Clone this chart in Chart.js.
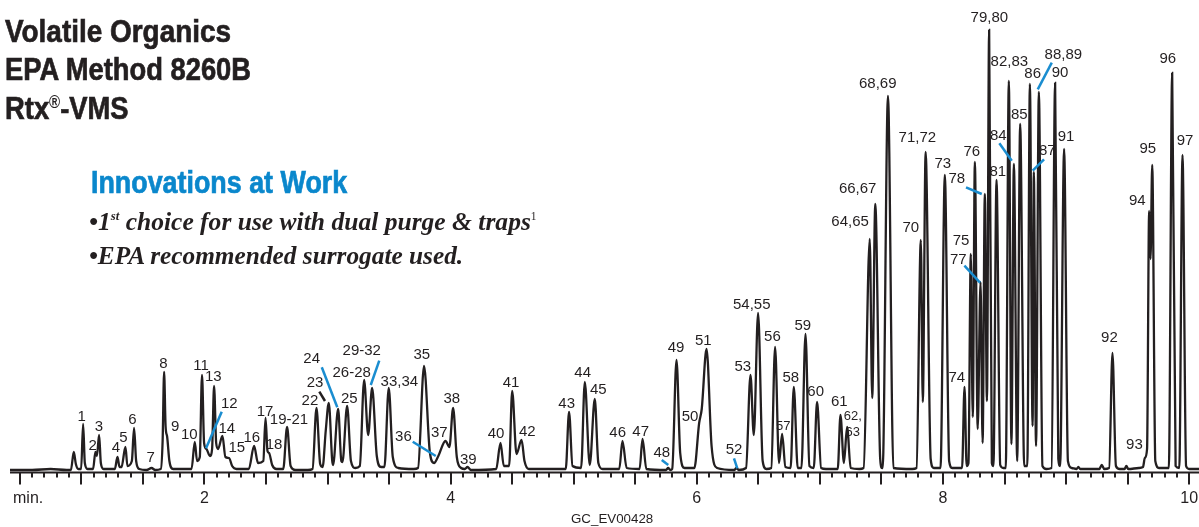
<!DOCTYPE html>
<html>
<head>
<meta charset="utf-8">
<script src="https://cdn.jsdelivr.net/npm/chart.js@4.4.1/dist/chart.umd.min.js"></script>
<style>
  html,body{margin:0;padding:0;background:#fff;}
  #wrap{position:relative;width:1199px;height:527px;overflow:hidden;background:#fff;}
  canvas{position:absolute;left:0;top:0;}
  .fit{position:absolute;white-space:nowrap;display:inline-block;line-height:1;transform-origin:0 0;}
  .ttl{font-family:"Liberation Sans",Arial,sans-serif;font-weight:bold;font-size:32px;color:#231f20;left:5px;-webkit-text-stroke:0.7px #231f20;}
  .blue{color:#0a87cc;-webkit-text-stroke:0.7px #0a87cc;}
  .it{font-family:"Liberation Serif","Times New Roman",serif;font-weight:bold;font-style:italic;font-size:26px;color:#231f20;}
  .sup{font-size:0.5em;position:relative;top:-0.75em;}
  .sup1{font-size:0.45em;position:relative;top:-0.85em;font-style:normal;font-weight:normal;}
  .reg{font-size:0.55em;position:relative;top:-0.6em;-webkit-text-stroke:0;}
  .foot{font-family:"Liberation Sans",Arial,sans-serif;font-size:13px;color:#231f20;}
</style>
</head>
<body>
<div id="wrap">
  <canvas id="c" width="1199" height="527"></canvas>
  <div class="fit ttl" data-w="226" style="top:15px">Volatile Organics</div>
  <div class="fit ttl" data-w="246" style="top:53px">EPA Method 8260B</div>
  <div class="fit ttl" data-w="124" style="top:92px">Rtx<span class="reg">®</span>-VMS</div>
  <div class="fit ttl blue" data-w="256" style="left:91px;top:166px">Innovations at Work</div>
  <div class="fit it" data-w="448" style="left:89px;top:209px">•1<span class="sup">st</span> choice for use with dual purge &amp; traps<span class="sup1">1</span></div>
  <div class="fit it" data-w="374" style="left:89px;top:243px">•EPA recommended surrogate used.</div>
  <div class="fit foot" data-w="82" style="left:571px;top:512px">GC_EV00428</div>
</div>
<script>
// ---------------- DATA ----------------
// chromatogram trace (minutes, detector response)
const retentionTime = [
  0.42,0.60,0.75,0.88,
  0.915,0.938,0.955,0.975,
  0.998,1.014,1.028,1.05,
  1.095,1.114,1.126,1.144,1.158,1.18,
  1.272,1.293,1.31,1.326,1.358,1.374,
  1.41,1.428,1.445,1.47,
  1.53,1.57,1.60,
  1.645,1.66,1.672,1.684,1.697,1.715,1.745,
  1.895,1.921,1.94,1.962,1.98,1.997,
  2.016,2.045,2.062,2.078,2.095,
  2.11,2.146,2.17,2.2,2.225,2.26,
  2.36,2.403,2.435,2.478,2.496,2.512,2.525,2.55,2.585,
  2.64,2.671,2.70,2.74,2.84,
  2.878,2.91,2.94,2.96,2.985,3.01,3.038,
  3.045,3.086,3.112,3.121,3.159,3.19,3.225,
  3.262,3.297,3.33,3.362,3.40,3.435,
  3.462,3.497,3.53,3.575,3.70,
  3.735,3.784,3.83,3.865,3.90,3.958,
  3.99,4.02,4.05,4.085,4.115,4.137,4.165,
  4.37,4.405,4.432,4.475,4.50,4.535,4.576,4.60,4.635,4.90,
  4.935,4.962,4.99,5.06,5.09,5.13,5.171,5.20,5.235,
  5.37,5.396,5.43,5.535,5.559,5.59,
  5.75,5.767,5.785,5.80,5.835,5.865,5.90,
  5.98,6.019,6.04,6.079,6.12,6.165,
  6.305,6.322,6.34,6.40,6.436,6.463,6.498,6.535,6.565,
  6.605,6.636,6.668,6.693,6.72,6.762,6.788,6.82,
  6.85,6.883,6.915,6.95,6.977,7.01,7.05,
  7.145,7.167,7.195,7.221,7.25,7.32,
  7.355,7.405,7.425,7.45,7.49,7.505,
  7.51,7.553,7.597,7.75,
  7.785,7.82,7.836,7.859,7.90,7.925,
  7.98,8.015,8.05,8.075,
  8.155,8.175,8.192,8.207,8.226,8.242,8.259,8.282,8.305,8.322,8.34,8.357,8.375,8.397,
  8.41,8.435,8.465,8.49,
  8.51,8.535,8.556,8.576,8.603,8.627,8.66,
  8.685,8.706,8.728,8.738,8.756,8.779,8.808,8.84,
  8.882,8.911,8.937,8.952,8.984,9.015,9.045,
  9.085,9.10,9.115,9.27,9.29,9.31,
  9.35,9.377,9.405,9.435,
  9.475,9.49,9.505,9.59,9.625,9.64,
  9.658,9.675,9.686,9.70,9.725,9.755,
  9.835,9.862,9.89,9.92,9.946,9.975,10.0,10.08
];
const detectorSignal = [
  1,1,2,1,
  1,19,7,2,
  2,47,8,2,
  2,19,15,36,8,2,
  2,14,4,4,24,5,
  10,43,10,2,
  1,3,1,
  2,30,99,45,34,10,2,
  2,29,10,14,96,28,
  22,15,22,85,28,
  22,35,14,13,5,2,
  2,25,8,10,53,20,18,6,2,
  2,44,5,1,1,
  2,63,7,4,40,68,10,
  6,62,10,9,65,10,3,
  5,91,36,83,15,4,
  4,83,14,3,2,
  3,105,20,8,15,30,
  24,63,14,3,2,4,1,
  2,28,5,5,80,17,31,10,2,2,
  2,59,5,3,89,6,72,8,2,
  2,30,3,2,32,2,
  1,3,1,2,111,18,3,
  3,48,62,122,25,3,
  1,3,1,3,96,36,158,10,2,
  3,124,8,37,4,3,84,3,
  3,137,5,3,69,3,2,
  2,56,8,44,3,2,
  3,232,73,267,12,3,
  3,375,3,2,
  3,231,69,319,12,3,
  3,296,10,3,
  3,84,5,8,217,54,309,42,189,28,277,70,441,8,
  5,291,6,3,
  3,390,27,307,10,347,5,
  5,387,45,299,25,379,5,2,
  3,388,12,5,322,10,3,
  2,4,2,2,6,2,
  3,118,5,2,
  2,5,2,3,4,13,
  22,260,212,306,10,3,
  3,398,5,3,316,5,2,2
];

// x-axis labelled ticks (minutes)
const tickMinutes = [2, 4, 6, 8, 10];
const tickLabels  = ['2', '4', '6', '8', '10'];
const axisUnit = 'min.';

// peak identification labels (anchor in minutes / response units)
const peakLabel = ['1','2','3','4','5','6','7','8','9','10','11','12','13','14','15','16','17','18','19-21',
  '22','23','24','25','26-28','29-32','33,34','35','36','37','38','39','40','41','42','43','44','45','46','47',
  '48','49','50','51','52','53','54,55','56','57','58','59','60','61','62,','63','64,65','66,67','68,69','70',
  '71,72','73','74','75','76','77','78','79,80','81','82,83','84','85','86','87','88,89','90','91','92','93',
  '94','95','96','97'];
const peakLabelTime = [1.003,1.092,1.143,1.281,1.341,1.414,1.563,1.666,1.761,1.877,1.972,2.202,2.072,2.181,2.262,2.384,2.492,2.565,2.687,
  2.857,2.898,2.871,3.177,3.196,3.278,3.583,3.765,3.616,3.908,4.009,4.144,4.369,4.491,4.623,4.943,5.073,5.200,5.357,5.544,
  5.715,5.831,5.945,6.053,6.302,6.373,6.446,6.614,6.703,6.763,6.861,6.966,7.158,7.267,7.267,7.245,7.307,7.470,7.738,
  7.792,7.998,8.112,8.147,8.234,8.125,8.112,8.377,8.445,8.539,8.450,8.620,8.729,8.848,8.978,8.951,9.000,9.352,9.555,
  9.579,9.664,9.826,9.967];
const peakLabelHeight = [53.7,25,43.7,23.3,32.7,51,12.7,107,43.7,36,105,67,93.7,41.7,22.7,32.7,59.3,26,51,
  70,88.3,111.7,71.7,98.3,120.3,88.7,116,34.3,38.3,71.7,11,37,88.3,39.3,67,97.7,81,37.7,39.3,
  18.3,122.7,54.3,130.3,21,103.7,166,133.7,44.3,92.7,145,78.7,69.3,54.3,38.3,249,281.7,387,242.7,
  332.7,307,92.7,230.3,319.3,211,291.7,452.7,299.3,409.3,335,356,397,320.3,416,397.7,334.3,133.3,26,
  270.3,321.7,411.7,330.3];
const smallLabels = ['57', '62,', '63'];

// leader lines from labels to peaks (minutes / response units)
const leaderFor   = ['12','23','24','29-32','36','48','52','77','78','84','87','88,89'];
const leaderT1    = [2.140,2.933,2.953,3.420,3.692,5.715,6.302,8.174,8.187,8.458,8.821,8.884];
const leaderH1    = [59.3,79.3,103.7,110.3,29.3,11,12.7,205.3,283.7,327.7,311.7,408.3];
const leaderT2    = [2.013,2.979,3.079,3.351,3.879,5.768,6.329,8.301,8.315,8.559,8.729,8.770];
const leaderH2    = [22.7,70,63.7,86,15,6,2.7,188.3,277,310.3,300.3,381.7];
const leaderBlack = ['23'];

// ---------------- STYLE ----------------
const INK = '#231f20';
const BLUE = '#1a8dd0';

const tracePoints = retentionTime.map((t, i) => ({x: t, y: detectorSignal[i]}));

const annotations = {
  id: 'annotations',
  afterDatasetsDraw(chart) {
    const {ctx, scales: {x, y}} = chart;
    ctx.save();
    const axisY = y.getPixelForValue(0) + 1.5;
    ctx.strokeStyle = INK;
    ctx.lineWidth = 2;
    ctx.beginPath();
    ctx.moveTo(x.left, axisY);
    ctx.lineTo(x.right, axisY);
    ctx.stroke();
    for (let i = 5; i <= 100; i++) {
      const px = Math.round(x.getPixelForValue(i / 10));
      const major = i % 5 === 0;
      ctx.beginPath();
      ctx.moveTo(px, axisY);
      ctx.lineTo(px, axisY + (major ? 12 : 5));
      ctx.stroke();
    }
    ctx.fillStyle = INK;
    ctx.font = '16px "Liberation Sans", Arial, sans-serif';
    ctx.textBaseline = 'alphabetic';
    ctx.textAlign = 'center';
    tickMinutes.forEach((m, i) => {
      ctx.fillText(tickLabels[i], x.getPixelForValue(m), axisY + 30);
    });
    ctx.textAlign = 'left';
    ctx.fillText(axisUnit, x.left + 3, axisY + 30);

    ctx.lineCap = 'butt';
    leaderFor.forEach((lab, i) => {
      ctx.strokeStyle = leaderBlack.includes(lab) ? INK : BLUE;
      ctx.lineWidth = 2.5;
      ctx.beginPath();
      ctx.moveTo(x.getPixelForValue(leaderT1[i]), y.getPixelForValue(leaderH1[i]));
      ctx.lineTo(x.getPixelForValue(leaderT2[i]), y.getPixelForValue(leaderH2[i]));
      ctx.stroke();
    });

    ctx.textAlign = 'center';
    ctx.textBaseline = 'middle';
    peakLabel.forEach((lab, i) => {
      ctx.font = (smallLabels.includes(lab) ? '13px' : '15px') + ' "Liberation Sans", Arial, sans-serif';
      ctx.fillStyle = INK;
      ctx.fillText(lab, x.getPixelForValue(peakLabelTime[i]), y.getPixelForValue(peakLabelHeight[i]));
    });
    ctx.restore();
  }
};

new Chart(document.getElementById('c'), {
  type: 'line',
  data: {
    datasets: [{
      data: tracePoints,
      borderColor: INK,
      borderWidth: 2.3,
      pointRadius: 0,
      fill: false,
      cubicInterpolationMode: 'monotone',
      clip: false
    }]
  },
  options: {
    responsive: false,
    animation: false,
    events: [],
    layout: {padding: {left: 10, right: 0, top: 21, bottom: 56}},
    plugins: {legend: {display: false}, tooltip: {enabled: false}, title: {display: false}},
    scales: {
      x: {type: 'linear', min: 0.42, max: 10.08, display: false},
      y: {type: 'linear', min: 0, max: 450, display: false}
    }
  },
  plugins: [annotations]
});

// condense the heading texts to the widths they take in the reference
document.querySelectorAll('.fit').forEach(el => {
  const w = el.offsetWidth;
  const target = parseFloat(el.dataset.w);
  if (w > 0) el.style.transform = 'scaleX(' + (target / w).toFixed(4) + ')';
});
</script>
</body>
</html>
